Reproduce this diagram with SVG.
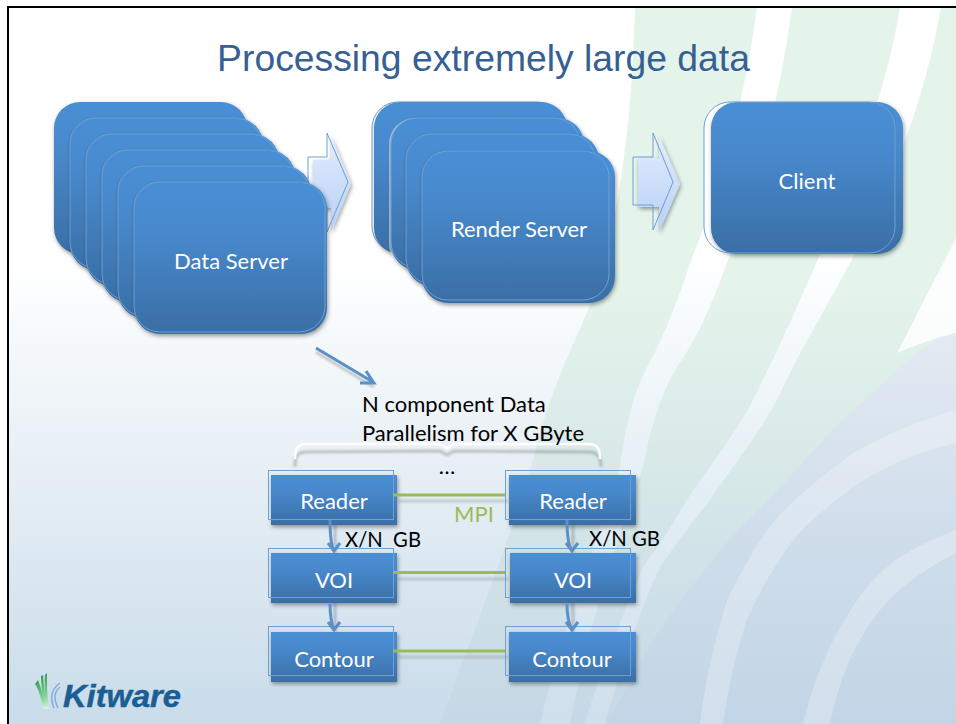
<svg xmlns="http://www.w3.org/2000/svg" width="956" height="724" viewBox="0 0 956 724">
<style>
.big{fill:url(#boxg);filter:url(#sh)}
.ol{fill:none;stroke:#6fa0d2;stroke-width:1}
.t{font-family:Lato,"Liberation Sans",sans-serif;font-size:22px}
.w{fill:#fff;text-anchor:middle}
.k{fill:#000}
.mpi{stroke:#9bbb59;stroke-width:3;fill:none}
.mpis{stroke:#8a9399;stroke-width:3;fill:none;opacity:.4;filter:url(#bl)}
.ar{stroke:#5b90c8;stroke-width:3;fill:none}
.ars{stroke:#555;stroke-width:3;fill:none;opacity:.3;filter:url(#bl)}
.band{fill:#fff;opacity:.25}
</style>
<defs>
<linearGradient id="boxg" x1="0" y1="0" x2="0" y2="1"><stop offset="0" stop-color="#4a8fd6"/><stop offset=".35" stop-color="#4788cb"/><stop offset="1" stop-color="#3a6ea5"/></linearGradient>
<linearGradient id="bg" x1="0" y1="0" x2="0" y2="1"><stop offset=".36" stop-color="#fff"/><stop offset="1" stop-color="#c9dcea"/></linearGradient>
<linearGradient id="gr" gradientUnits="userSpaceOnUse" x1="0" y1="0" x2="0" y2="724"><stop offset=".4" stop-color="#e4f4eb"/><stop offset=".68" stop-color="#d6e7e8"/><stop offset="1" stop-color="#c5d8e6"/></linearGradient>
<linearGradient id="whb" gradientUnits="userSpaceOnUse" x1="0" y1="0" x2="0" y2="724"><stop offset=".35" stop-color="#fff"/><stop offset=".65" stop-color="#e6f0f6"/><stop offset="1" stop-color="#cfdfeb"/></linearGradient>
<linearGradient id="blu" gradientUnits="userSpaceOnUse" x1="0" y1="330" x2="0" y2="724"><stop offset="0" stop-color="#e4eaf3"/><stop offset=".5" stop-color="#d0deeb"/><stop offset="1" stop-color="#c2d5e6"/></linearGradient>
<linearGradient id="arg" x1="0" y1="0" x2="0" y2="1"><stop offset="0" stop-color="#e2ecfc"/><stop offset=".6" stop-color="#c9dbfa"/><stop offset="1" stop-color="#b8cff5"/></linearGradient>
<linearGradient id="lg" x1="0" y1="0" x2="0" y2="1"><stop offset="0" stop-color="#2f9e4f"/><stop offset=".7" stop-color="#8fd7a0"/><stop offset="1" stop-color="#e0f2e6"/></linearGradient>
<filter id="sh" x="-10%" y="-10%" width="125%" height="125%"><feDropShadow dx="1" dy="2" stdDeviation="2.2" flood-color="#000" flood-opacity=".4"/></filter>
<filter id="bl" x="-20%" y="-200%" width="140%" height="500%"><feGaussianBlur stdDeviation="1"/></filter>
</defs>

<g id="background">
<rect width="956" height="724" fill="url(#bg)"/>
<path fill="url(#gr)" d="M635 7H956V724H440C470 640 510 540 533 460C540 430 550 400 563 367C573 345 582 325 592 300C620 220 632 120 635 7Z"/>
<path fill="url(#whb)" d="M792 7C780 100 755 190 727 263C715 295 700 335 677 367C660 395 650 430 643 467C620 530 590 620 570 724H540C565 620 600 530 620 467C625 430 632 395 647 367C665 335 680 295 690 263C720 190 745 100 757 7Z"/>
<path fill="url(#whb)" d="M941 7C925 100 890 190 850 263C825 310 800 350 777 400C755 440 730 470 710 500C690 525 675 545 660 567C640 610 620 670 605 724H585C600 670 625 610 643 567C660 545 672 525 687 500C710 465 735 435 753 400C770 365 785 335 800 300C845 200 885 100 900 7Z"/>
<path fill="#fff" opacity=".85" d="M956 238L897 353C915 345 935 338 956 333Z"/>
<path fill="url(#blu)" d="M956 333C920 340 885 385 853 410C830 430 810 455 787 480C760 510 730 535 707 567C685 595 665 620 647 650C633 675 620 700 607 724H956Z"/>
<path class="band" d="M956 410C920 420 885 435 853 453C830 470 805 490 787 507C760 535 745 565 727 600C715 640 705 680 700 724H723C728 690 735 655 747 620C760 590 775 565 793 540C810 520 830 505 853 487C885 465 920 452 956 443Z"/>
<path class="band" d="M956 530C930 540 905 552 887 567C865 585 850 610 837 633C820 665 810 695 803 724H830C835 700 842 675 853 653C865 630 880 605 903 587C920 573 938 562 956 553Z"/>
<rect x="0" y="0" width="7" height="724" fill="#fff"/>
<rect x="0" y="0" width="956" height="6" fill="#fff"/>
<path d="M8 724V7H956" fill="none" stroke="#000" stroke-width="2"/>
</g>

<text id="title" x="483.500" y="71" text-anchor="middle" font-family="Liberation Sans,Arial,sans-serif" font-size="37.3" fill="#376092">Processing extremely large data</text>

<g id="connectors-back">
<g id="arrow-data-render">
<path d="M313 160H331V136L351 184L331 232V208H313Z" fill="url(#arg)" filter="url(#sh)"/>
<path d="M308 157H327V133L348 182L327 232V207H308Z" fill="none" stroke="#6fa0d2"/>
</g>
<g id="arrow-render-client">
<path d="M638 158H659V136L680 184L659 232V207H638Z" fill="url(#arg)" filter="url(#sh)"/>
<path d="M633 157H653V133L673 182L653 230V205H633Z" fill="none" stroke="#6fa0d2"/>
</g>
<g id="detail-arrow">
<path class="ars" d="M316 352L374 387"/>
<path class="ar" d="M316 348L373 382M360 383H374L366 371"/>
</g>
<g id="brace">
<path d="M295 463C295 452 297 449 305 448L440 447L447 451L454 447L590 448C598 449 601 453 601 463" fill="none" stroke="#666" stroke-width="3" opacity=".35" filter="url(#bl)" transform="translate(0,4)"/>
<path d="M295 459C295 449 297 445 305 444L440 444L447 448L454 444L590 444C598 445 600 449 600 459" fill="none" stroke="#fff" stroke-width="2.500"/>
</g>
</g>

<g id="data-server-stack">
<g id="data-1"><rect class="big" x="54" y="102" width="193" height="152" rx="26"/></g>
<g id="data-2"><rect class="big" x="70" y="118" width="193" height="152" rx="26"/><rect class="ol" x="70" y="118" width="191" height="150" rx="26"/></g>
<g id="data-3"><rect class="big" x="86" y="134" width="193" height="152" rx="26"/><rect class="ol" x="86" y="134" width="191" height="150" rx="26"/></g>
<g id="data-4"><rect class="big" x="102" y="150" width="193" height="152" rx="26"/><rect class="ol" x="102" y="150" width="191" height="150" rx="26"/></g>
<g id="data-5"><rect class="big" x="118" y="166" width="193" height="152" rx="26"/><rect class="ol" x="118" y="166" width="191" height="150" rx="26"/></g>
<g id="data-6"><rect class="big" x="134" y="182" width="193" height="152" rx="26"/><rect class="ol" x="134" y="182" width="191" height="150" rx="26"/><text class="t w" x="231" y="269">Data Server</text></g>
</g>

<g id="render-server-stack">
<g id="render-1"><rect x="372" y="102" width="193" height="152" rx="26" fill="#fff"/><rect class="ol" x="372" y="102" width="191" height="150" rx="26"/><rect class="big" x="374" y="102" width="193" height="152" rx="26"/></g>
<g id="render-2"><rect x="389" y="118" width="193" height="152" rx="26" fill="#fff" opacity=".5"/><rect class="big" x="391" y="118" width="193" height="152" rx="26"/><rect class="ol" x="391" y="118" width="189" height="150" rx="26"/></g>
<g id="render-3"><rect class="big" x="406" y="134" width="193" height="152" rx="26"/><rect class="ol" x="406" y="134" width="189" height="150" rx="26"/></g>
<g id="render-4"><rect class="big" x="422" y="151" width="193" height="152" rx="26"/><rect class="ol" x="422" y="151" width="187" height="149" rx="26"/><text class="t w" x="519" y="237">Render Server</text></g>
</g>

<g id="client"><rect x="704" y="102" width="191" height="151" rx="26" fill="#fff"/><rect class="big" x="711" y="102" width="192" height="152" rx="26"/><rect class="ol" x="704" y="102" width="191" height="151" rx="26"/><text class="t w" x="807" y="189">Client</text></g>

<text class="t k" x="362" y="412">N component Data</text>
<text class="t k" x="362" y="441">Parallelism for X GByte</text>
<text class="t k" x="447" y="474" text-anchor="middle">…</text>

<g id="reader-left"><rect class="big" x="271" y="475" width="126" height="50"/><rect class="ol" x="268.500" y="470.500" width="125" height="49"/><text class="t w" x="334" y="509">Reader</text></g>
<g id="reader-right"><rect class="big" x="509" y="475" width="127" height="50"/><rect class="ol" x="505.500" y="470.500" width="125" height="49"/><text class="t w" x="573" y="509">Reader</text></g>
<g id="voi-left"><rect class="big" x="271" y="553" width="126" height="50"/><rect class="ol" x="268.500" y="548.500" width="125" height="49"/><text class="t w" x="334" y="588">VOI</text></g>
<g id="voi-right"><rect class="big" x="510" y="553" width="126" height="50"/><rect class="ol" x="505.500" y="548.500" width="125" height="49"/><text class="t w" x="573" y="588">VOI</text></g>
<g id="contour-left"><rect class="big" x="271" y="632" width="126" height="50"/><rect class="ol" x="268.500" y="626.500" width="125" height="49"/><text class="t w" x="334" y="667">Contour</text></g>
<g id="contour-right"><rect class="big" x="509" y="632" width="127" height="50"/><rect class="ol" x="505.500" y="626.500" width="125" height="49"/><text class="t w" x="572" y="667">Contour</text></g>

<g id="connectors-front">
<path class="mpis" d="M397 501H509M397 579H509M397 657H509"/>
<path class="mpi" d="M393 495H505M393 572.500H505M393 651H505"/>
<path class="ars" d="M335 525V553M573 525V553M335 603V632M573 603V632"/>
<path class="ar" d="M330 520C330 535 331 545 334 551M328 543L334 551L340 543"/>
<path class="ar" d="M567 520C567 535 568 545 572 551M566 543L572 551L578 543"/>
<path class="ar" d="M330 604C330 615 331 622 334 630M328 622L334 630L340 622"/>
<path class="ar" d="M567 604C567 615 568 622 572 630M566 622L572 630L578 622"/>
</g>

<text class="t" x="454" y="522" fill="#9bbb59">MPI</text>
<text class="t k" x="345" y="547" xml:space="preserve" textLength="76" lengthAdjust="spacingAndGlyphs">X/N  GB</text>
<text class="t k" x="589" y="546" textLength="71" lengthAdjust="spacingAndGlyphs">X/N GB</text>

<g id="logo">
<path d="M38 680C42 690 44 700 47 709L43 709C41 698 39 690 35 684Z" fill="url(#lg)"/>
<path d="M43 675C44 688 45 698 48 709L45 709C43 698 41 688 41 676Z" fill="url(#lg)"/>
<path d="M47 673C47 688 47 698 49 709L47 709C45 698 44 688 45 675Z" fill="url(#lg)"/>
<path d="M60 683C53 688 49 696 54 708M60 687C55 691 53 698 58 708" fill="none" stroke="#7fb0d8" stroke-width="1.500"/>
<text x="63" y="707" font-family="Liberation Sans,Arial,sans-serif" font-weight="700" font-style="italic" font-size="31" fill="#1b5e95" stroke="#1b5e95" stroke-width=".5" textLength="118" lengthAdjust="spacingAndGlyphs">Kitware</text>
</g>
</svg>
